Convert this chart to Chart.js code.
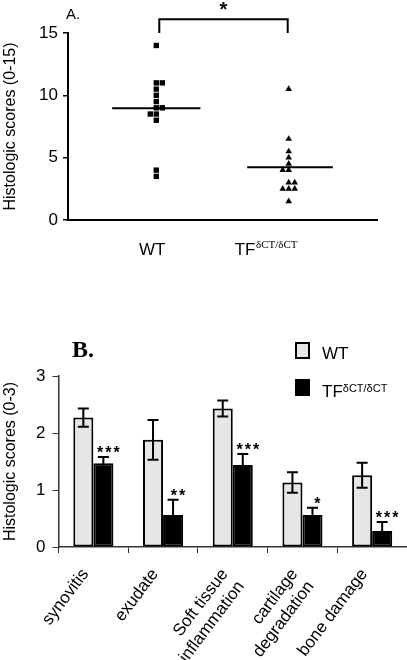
<!DOCTYPE html>
<html lang="en">
<head>
<meta charset="UTF-8">
<title>Histologic scores</title>
<script src="https://cdn.jsdelivr.net/npm/chart.js"></script>
<style>
  body { margin: 0; width: 407px; height: 660px; overflow: hidden; background: #fff; position: relative; }
  #chartA { position: absolute; left: 0; top: 0; }
  #chartB { position: absolute; left: 0; top: 290px; }
</style>
</head>
<body>
<canvas id="chartA" width="407" height="290"></canvas>
<canvas id="chartB" width="407" height="390"></canvas>

<script>
// ---- panel A: individual scores (0-15) ----
const groupsA = ['WT', 'TF'];
const wtScores  = [14, 11, 11, 10.5, 10, 9.5, 9, 9, 8.5, 8.5, 8, 4, 3.5];
const wtColumns = [0, 0, 1, 0, 0, 0, 0, 1, -1, 0, 0, 0, 0];
const tfScores  = [10.5, 6.5, 5.5, 5, 4.5, 4, 4, 3, 3, 2.5, 2.5, 2.5, 1.5];
const tfColumns = [0, 0, 0, 0, 0, -1, 0, 0, 1, -1, 0, 1, 0];
const ticksA = [0, 5, 10, 15];

// ---- panel B: mean scores (0-3) +/- error ----
const categoriesB = [['synovitis'], ['exudate'], ['Soft tissue', 'inflammation'], ['cartilage', 'degradation'], ['bone damage']];
const wtMeans  = [2.27, 1.88, 2.43, 1.13, 1.26];
const wtErrors = [0.16, 0.35, 0.14, 0.18, 0.22];
const tfMeans  = [1.47, 0.56, 1.44, 0.56, 0.28];
const tfErrors = [0.11, 0.27, 0.19, 0.13, 0.16];
const starsB = ['***', '**', '***', '*', '***'];
const ticksB = [0, 1, 2, 3];

const SUP = '\u03b4CT/\u03b4CT';
Chart.defaults.font.family = "'Liberation Sans', Arial, sans-serif";
Chart.defaults.color = '#000';

const mean = arr => arr.reduce((s, v) => s + v, 0) / arr.length;
const jitter = 0.068;
const xWT = 1, xTF = 2.5;
const toPoints = (vals, cols, cx) => vals.map((v, i) => ({ x: cx + cols[i] * jitter, y: v }));

// labels, bracket and star for panel A
const panelADecor = {
  id: 'panelADecor',
  afterDraw(chart) {
    const { ctx, scales: { x, y } } = chart;
    ctx.save();
    ctx.fillStyle = '#000';
    ctx.strokeStyle = '#000';

    // "A."
    ctx.font = "15px 'Liberation Sans', Arial";
    ctx.textAlign = 'left';
    ctx.textBaseline = 'alphabetic';
    ctx.fillText('A.', 66, 18.5);

    // significance bracket
    const x1 = x.getPixelForValue(xWT) + 3, x2 = x.getPixelForValue(xTF) - 1;
    const yb = y.getPixelForValue(15), yt = y.getPixelForValue(16.1);
    ctx.lineWidth = 2;
    ctx.beginPath();
    ctx.moveTo(x1, yb); ctx.lineTo(x1, yt); ctx.lineTo(x2, yt); ctx.lineTo(x2, yb);
    ctx.stroke();
    ctx.font = "bold 20px 'Liberation Sans', Arial";
    ctx.textAlign = 'center';
    ctx.fillText('*', (x1 + x2) / 2, yt - 3);

    // category labels
    const base = y.bottom + 34.5;
    ctx.font = "17px 'Liberation Sans', Arial";
    ctx.textAlign = 'center';
    ctx.fillText(groupsA[0], x.getPixelForValue(xWT) - 4, base);
    ctx.textAlign = 'left';
    const tfx = x.getPixelForValue(xTF) - 54;
    ctx.fillText(groupsA[1], tfx, base);
    const w = ctx.measureText(groupsA[1]).width;
    ctx.font = "11px 'Liberation Serif', 'Times New Roman'";
    ctx.fillText(SUP, tfx + w + 0.5, base - 7);
    ctx.restore();
  }
};

new Chart(document.getElementById('chartA'), {
  type: 'scatter',
  data: {
    datasets: [
      { data: toPoints(wtScores, wtColumns, xWT), pointStyle: 'rect', pointRadius: 3.8, backgroundColor: '#000', borderWidth: 0 },
      { data: toPoints(tfScores, tfColumns, xTF), pointStyle: 'triangle', pointRadius: 3.8, backgroundColor: '#000', borderWidth: 0 },
      { data: [{ x: xWT - 0.5, y: mean(wtScores) }, { x: xWT + 0.5, y: mean(wtScores) }], showLine: true, pointRadius: 0, borderColor: '#000', borderWidth: 2 },
      { data: [{ x: xTF - 0.47, y: mean(tfScores) }, { x: xTF + 0.5, y: mean(tfScores) }], showLine: true, pointRadius: 0, borderColor: '#000', borderWidth: 2 }
    ]
  },
  options: {
    responsive: false,
    animation: false,
    events: [],
    layout: { padding: { top: 33, right: 30, left: 0, bottom: 0 } },
    plugins: { legend: { display: false }, tooltip: { enabled: false } },
    scales: {
      x: {
        min: 0, max: 3.5,
        ticks: { display: false },
        grid: { display: false },
        border: { color: '#000', width: 2 },
        afterFit: s => { s.height = 70; }
      },
      y: {
        min: 0, max: 15,
        afterBuildTicks: s => { s.ticks = ticksA.map(v => ({ value: v })); },
        ticks: { font: { size: 17 }, padding: 5 },
        grid: { drawOnChartArea: false, tickLength: 5, color: '#000', lineWidth: 1.5 },
        border: { color: '#000', width: 2 },
        title: { display: true, text: 'Histologic scores (0-15)', font: { size: 16 }, padding: { top: 1, bottom: 0 } },
        afterFit: s => { s.width = 68; }
      }
    }
  },
  plugins: [panelADecor]
});

// error bars, stars, legend and "B." for panel B
const panelBDecor = {
  id: 'panelBDecor',
  afterDatasetsDraw(chart) {
    const { ctx, scales: { y } } = chart;
    ctx.save();
    ctx.strokeStyle = '#000';
    ctx.fillStyle = '#000';
    ctx.lineWidth = 2;
    chart.data.datasets.forEach((ds, i) => {
      chart.getDatasetMeta(i).data.forEach((bar, j) => {
        const v = ds.data[j], e = ds.errors[j];
        const top = y.getPixelForValue(v + e), bot = y.getPixelForValue(v - e);
        const cap = 5.5;
        ctx.beginPath();
        ctx.moveTo(bar.x, top); ctx.lineTo(bar.x, bot);
        ctx.moveTo(bar.x - cap, top); ctx.lineTo(bar.x + cap, top);
        ctx.moveTo(bar.x - cap, bot); ctx.lineTo(bar.x + cap, bot);
        ctx.stroke();
        if (i === 1) {
          ctx.font = "bold 16px 'Liberation Sans', Arial";
          ctx.letterSpacing = '2px';
          ctx.textAlign = 'center';
          ctx.textBaseline = 'alphabetic';
          ctx.fillText(starsB[j], bar.x + 6, top + 1);
        }
      });
    });
    ctx.restore();
  },
  afterDraw(chart) {
    const { ctx, chartArea } = chart;
    ctx.save();
    ctx.fillStyle = '#000';
    ctx.textAlign = 'left';
    ctx.textBaseline = 'alphabetic';
    ctx.font = "bold 24px 'Liberation Serif', 'Times New Roman'";
    ctx.fillText('B.', 72, 67);

    const lx = chartArea.right - 111;
    ctx.lineWidth = 2;
    ctx.strokeStyle = '#000';
    ctx.fillStyle = chart.data.datasets[0].backgroundColor;
    ctx.fillRect(lx, 53, 13, 15);
    ctx.strokeRect(lx, 53, 13, 15);
    ctx.fillStyle = '#000';
    ctx.fillRect(lx - 1, 89, 15, 17);

    ctx.font = "17px 'Liberation Sans', Arial";
    ctx.fillText('WT', lx + 26, 69);
    ctx.fillText('TF', lx + 26, 107);
    const w = ctx.measureText('TF').width;
    ctx.font = "11px 'Liberation Sans', Arial";
    ctx.fillText(SUP, lx + 26 + w, 102);
    ctx.restore();
  }
};

new Chart(document.getElementById('chartB'), {
  type: 'bar',
  data: {
    labels: categoriesB,
    datasets: [
      { label: 'WT', data: wtMeans, errors: wtErrors, backgroundColor: '#e6e6e6', borderColor: '#000', borderWidth: 2, borderSkipped: false, categoryPercentage: 0.575, barPercentage: 1 },
      { label: 'TF', data: tfMeans, errors: tfErrors, backgroundColor: '#000', borderColor: '#000', borderWidth: 2, borderSkipped: false, categoryPercentage: 0.575, barPercentage: 1 }
    ]
  },
  options: {
    responsive: false,
    animation: false,
    events: [],
    layout: { padding: { top: 86, right: 0, left: 0, bottom: 0 } },
    plugins: { legend: { display: false }, tooltip: { enabled: false } },
    scales: {
      x: {
        grid: { drawOnChartArea: false, tickLength: 6, color: '#333', lineWidth: 1 },
        border: { color: '#333', width: 1.5 },
        ticks: { font: { size: 17 }, minRotation: 53, maxRotation: 53, autoSkip: false, padding: 12, labelOffset: -8 },
        afterFit: s => { s.height = 133; }
      },
      y: {
        min: 0, max: 3,
        afterBuildTicks: s => { s.ticks = ticksB.map(v => ({ value: v })); },
        ticks: { font: { size: 17 }, padding: 7 },
        grid: { drawOnChartArea: false, tickLength: 6, color: '#333', lineWidth: 1 },
        border: { color: '#333', width: 1.5 },
        title: { display: true, text: 'Histologic scores (0-3)', font: { size: 16 }, padding: { top: 1, bottom: 0 } },
        afterFit: s => { s.width = 58.5; }
      }
    }
  },
  plugins: [panelBDecor]
});
</script>
</body>
</html>
